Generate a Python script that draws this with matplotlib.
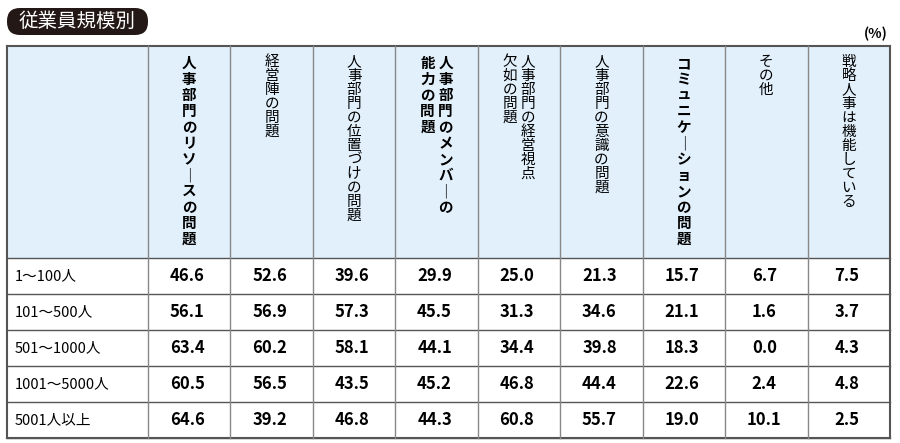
import matplotlib.pyplot as plt
from matplotlib.patches import Rectangle, FancyBboxPatch

plt.rcParams['font.family'] = 'Noto Sans CJK JP'

title = "従業員規模別"
unit = "(%)"
# each header is a list of vertical lines, right-most first
headers = [["人事部門のリソースの問題"], ["経営陣の問題"], ["人事部門の位置づけの問題"],
           ["人事部門のメンバーの", "能力の問題"], ["人事部門の経営視点", "欠如の問題"],
           ["人事部門の意識の問題"], ["コミュニケーションの問題"], ["その他"], ["戦略人事は機能している"]]
bold_cols = [0, 3, 6]
rows = ["1～100人", "101～500人", "501～1000人", "1001～5000人", "5001人以上"]
values = [
    [46.6, 52.6, 39.6, 29.9, 25.0, 21.3, 15.7, 6.7, 7.5],
    [56.1, 56.9, 57.3, 45.5, 31.3, 34.6, 21.1, 1.6, 3.7],
    [63.4, 60.2, 58.1, 44.1, 34.4, 39.8, 18.3, 0.0, 4.3],
    [60.5, 56.5, 43.5, 45.2, 46.8, 44.4, 22.6, 2.4, 4.8],
    [64.6, 39.2, 46.8, 44.3, 60.8, 55.7, 19.0, 10.1, 2.5],
]

fig = plt.figure(figsize=(9, 4.43), dpi=100)
ax = fig.add_axes([0, 0, 1, 1])
ax.set_xlim(0, 900)
ax.set_ylim(443, 0)
ax.axis('off')

left, right = 7, 890
first_w = 141
top, head_b = 46, 258
row_h = 36
ncol = len(headers)
col_w = (right - left - first_w) / ncol
bottom = head_b + row_h * len(rows)
line_c = '#555555'

# title pill
ax.add_patch(FancyBboxPatch((7, 8), 141, 27, boxstyle="round,pad=0,rounding_size=13",
                            fc='#231815', ec='none'))
ax.text(77, 21.5, title, color='white', fontsize=14, ha='center', va='center')
ax.text(888, 34, unit, fontsize=10, fontweight='bold', ha='right', va='center')

# header background
ax.add_patch(Rectangle((left, top), right - left, head_b - top, fc='#e1f0fb', ec='none'))

def vert(s):
    return "\n".join("｜" if c == "ー" else c for c in s)

for j, lines in enumerate(headers):
    cx = left + first_w + col_w * (j + 0.5)
    n = len(lines)
    for k, ln in enumerate(lines):
        x = cx + (n - 1) * 9 - k * 18
        ax.text(x, 55, vert(ln), fontsize=10.5, ha='center', va='top', linespacing=1.0,
                fontweight='bold' if j in bold_cols else 'normal')

for i, r in enumerate(rows):
    cy = head_b + row_h * (i + 0.5)
    ax.text(left + 8, cy, r, fontsize=10.5, ha='left', va='center')
    for j, v in enumerate(values[i]):
        x = left + first_w + col_w * (j + 0.5) - 2
        ax.text(x, cy, f"{v:.1f}", fontsize=12, fontweight='bold', ha='center', va='center')

# grid lines
for i in range(len(rows) + 1):
    y = head_b + row_h * i
    ax.plot([left, right], [y, y], color=line_c, lw=1)
ax.plot([left, right], [top, top], color=line_c, lw=1.5)
ax.plot([left, right], [bottom, bottom], color=line_c, lw=1.5)
ax.plot([left, left], [top, bottom], color=line_c, lw=1.5)
ax.plot([right, right], [top, bottom], color=line_c, lw=1.5)
for j in range(ncol):
    x = left + first_w + col_w * j
    ax.plot([x, x], [top, bottom], color='#888888', lw=1)

fig.savefig('out.png', dpi=100)
